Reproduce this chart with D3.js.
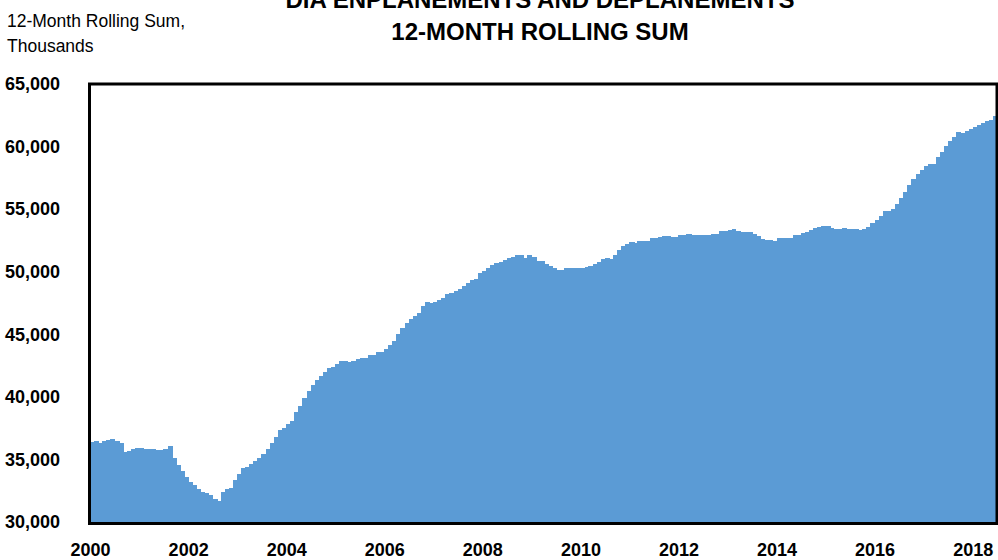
<!DOCTYPE html>
<html>
<head>
<meta charset="utf-8">
<script src="https://cdn.jsdelivr.net/npm/d3@7"></script>
<style>
  body { margin: 0; background: #fff; }
  svg { display: block; }
  .tick text { font-family: "Liberation Sans", Arial, sans-serif; font-weight: bold; fill: #000; }
</style>
</head>
<body>
<svg id="chart" width="998" height="560"></svg>
<script>
// 12-month rolling sum, thousands — one value per month starting Jan 2000
var startMonth = new Date(2000, 0, 1);
var rollingSum = [
  36380, 36450, 36340, 36480, 36580, 36650, 36450, 36340, 35620, 35700, 35810, 35930, // 2000
  35900, 35810, 35810, 35810, 35730, 35730, 35810, 36070, 35110, 34530, 34050, 33570, // 2001
  33220, 32960, 32610, 32400, 32290, 32130, 31860, 31700, 32400, 32640, 32720, 33330, // 2002
  33810, 34290, 34390, 34610, 34870, 35110, 35460, 35860, 36280, 36790, 37350, 37480, // 2003
  37830, 38090, 38790, 39270, 39880, 40460, 40940, 41340, 41660, 42000, 42300, 42410, // 2004
  42620, 42840, 42840, 42760, 42860, 43020, 43080, 43080, 43310, 43310, 43550, 43550, // 2005
  43820, 44140, 44480, 45020, 45500, 45890, 46210, 46450, 46720, 47250, 47550, 47470, // 2006
  47550, 47730, 47920, 48190, 48270, 48450, 48600, 48850, 49090, 49320, 49400, 49900, // 2007
  50050, 50260, 50530, 50660, 50740, 50950, 51060, 51190, 51300, 51300, 51110, 51300, // 2008
  51170, 50870, 50820, 50580, 50470, 50260, 50150, 50150, 50260, 50260, 50260, 50260, // 2009
  50260, 50340, 50470, 50610, 50790, 51010, 51060, 51010, 51330, 51730, 52040, 52200, // 2010
  52360, 52280, 52470, 52450, 52440, 52660, 52660, 52760, 52870, 52870, 52760, 52760, // 2011
  52900, 52900, 52980, 52900, 52900, 52900, 52900, 52900, 53000, 53030, 53240, 53240, // 2012
  53300, 53380, 53270, 53190, 53140, 53140, 52980, 52840, 52600, 52520, 52520, 52440, // 2013
  52660, 52660, 52710, 52710, 52920, 52920, 53060, 53190, 53350, 53510, 53540, 53620, // 2014
  53620, 53480, 53400, 53400, 53480, 53380, 53380, 53380, 53300, 53430, 53540, 53860, // 2015
  54120, 54420, 54840, 54840, 55000, 55420, 55860, 56380, 56950, 57400, 57800, 58110, // 2016
  58430, 58570, 58570, 59130, 59580, 60060, 60430, 60780, 61130, 61050, 61230, 61390, // 2017
  61580, 61760, 61850, 62030, 62160, 62430                                            // 2018
];
var yTicks = [30000, 35000, 40000, 45000, 50000, 55000, 60000, 65000];
var xTickYears = [2000, 2002, 2004, 2006, 2008, 2010, 2012, 2014, 2016, 2018];
var titleLines = ["DIA ENPLANEMENTS AND DEPLANEMENTS", "12-MONTH ROLLING SUM"];
var unitLines = ["12-Month Rolling Sum,", "Thousands"];

var svg = d3.select("#chart"),
    margin = {top: 84, right: 1, bottom: 38, left: 90},
    width = +svg.attr("width") - margin.left - margin.right,
    height = +svg.attr("height") - margin.top - margin.bottom;

var data = rollingSum.map((v, i) => ({date: d3.timeMonth.offset(startMonth, i), value: v}));
var endMonth = d3.timeMonth.offset(startMonth, rollingSum.length);

var x = d3.scaleTime()
    .domain([startMonth, endMonth])
    .range([margin.left, margin.left + width]);
var y = d3.scaleLinear()
    .domain([30000, 65000])
    .range([margin.top + height, margin.top]);

// monthly bars, overlapped a pixel so no seams show
svg.append("g")
    .attr("shape-rendering", "crispEdges")
    .selectAll("rect")
    .data(data)
    .join("rect")
    .attr("x", d => x(d.date))
    .attr("width", d => x(d3.timeMonth.offset(d.date, 1)) - x(d.date) + 1)
    .attr("y", d => y(d.value))
    .attr("height", d => y(30000) - y(d.value))
    .attr("fill", "#5b9bd5");

// frame
svg.append("rect")
    .attr("x", margin.left - 0.5)
    .attr("y", margin.top)
    .attr("width", width + 0.5)
    .attr("height", height + 1.5)
    .attr("fill", "none")
    .attr("stroke", "#000")
    .attr("stroke-width", 3);

svg.append("g")
    .attr("transform", "translate(" + margin.left + ",0)")
    .call(d3.axisLeft(y).tickValues(yTicks).tickFormat(d3.format(",")).tickSize(0).tickPadding(30))
    .call(g => g.select(".domain").remove())
    .selectAll("text").attr("font-size", 18);

svg.append("g")
    .attr("transform", "translate(0," + (margin.top + height) + ")")
    .call(d3.axisBottom(x)
        .tickValues(xTickYears.map(yr => new Date(yr, 0, 1)))
        .tickFormat(d3.timeFormat("%Y"))
        .tickSize(0).tickPadding(21))
    .call(g => g.select(".domain").remove())
    .selectAll("text").attr("font-size", 18);

svg.append("g")
    .selectAll("text")
    .data(titleLines)
    .join("text")
    .attr("x", 540)
    .attr("y", (d, i) => 8 + i * 32)
    .attr("text-anchor", "middle")
    .attr("font-family", "Liberation Sans, Arial, sans-serif")
    .attr("font-weight", "bold")
    .attr("font-size", 24)
    .text(d => d);

svg.append("g")
    .selectAll("text")
    .data(unitLines)
    .join("text")
    .attr("x", 7)
    .attr("y", (d, i) => 27 + i * 25)
    .attr("font-family", "Liberation Sans, Arial, sans-serif")
    .attr("font-size", 17.5)
    .text(d => d);
</script>
</body>
</html>
